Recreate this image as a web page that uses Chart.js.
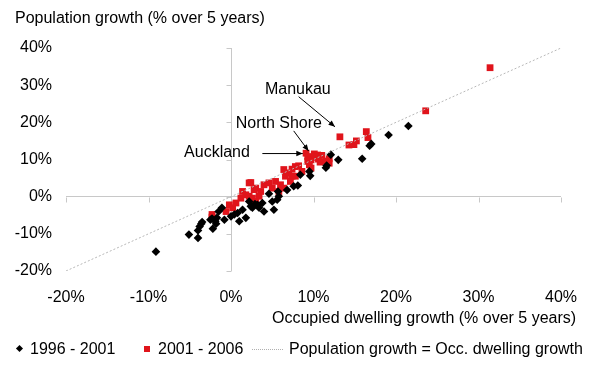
<!DOCTYPE html>
<html>
<head>
  <style>
    body {
      margin: 0;
      padding: 0;
      background: #fff;
      font-family: "Liberation Sans", Arial, sans-serif;
    }
    #wrap {
      position: relative;
      width: 596px;
      height: 366px;
    }
    #chart {
      position: absolute;
      left: 0;
      top: 0;
    }
    .txt {
      position: absolute;
      font-size: 16px;
      line-height: 18px;
      color: #000;
      white-space: nowrap;
    }
    .diamond {
      position: absolute;
      width: 5px;
      height: 5px;
      background: #000;
      transform: rotate(45deg);
    }
    .square {
      position: absolute;
      width: 6px;
      height: 6px;
      background: #e0141b;
    }
    .dotline {
      position: absolute;
      width: 31px;
      height: 0;
      border-top: 1px dotted #b0b0b0;
    }
  </style>
  <script src="https://cdn.jsdelivr.net/npm/chart.js"></script>
</head>
<body>
  <div id="wrap">
    <canvas id="chart" width="596" height="366"></canvas>
    <div class="txt" style="left:15px; top:9px;">Population growth (% over 5 years)</div>
    <div class="txt" style="left:272px; top:309px;">Occupied dwelling growth (% over 5 years)</div>

    <!-- legend -->
    <div class="diamond" style="left:17px; top:346px;"></div>
    <div class="txt" style="left:30px; top:340px;">1996 - 2001</div>
    <div class="square" style="left:144px; top:346px;"></div>
    <div class="txt" style="left:158px; top:340px;">2001 - 2006</div>
    <div class="dotline" style="left:252px; top:349px;"></div>
    <div class="txt" style="left:289px; top:340px;">Population growth = Occ. dwelling growth</div>
  </div>

  <script>
    // occupied dwelling growth (x) vs population growth (y), % over 5 years
    const growth9601 = [
      [-9.1, -14.8], [-5.1, -10.2], [-4.0, -11.1], [-4.0, -9.1], [-3.8, -8.0],
      [-3.6, -7.3], [-3.5, -6.8], [-2.5, -6.2], [-2.2, -8.6], [-2.3, -5.9],
      [-1.9, -6.6], [-1.8, -7.3], [-1.1, -3.0], [-1.5, -4.0], [-1.7, -5.7],
      [-0.8, -6.2], [0.0, -5.3], [0.4, -4.8], [0.8, -4.4], [1.4, -3.5],
      [1.0, -6.6], [1.8, -5.7], [2.2, -1.3], [2.4, -2.6], [2.6, -3.0],
      [3.2, -2.2], [3.4, -3.0], [2.9, -2.0], [3.8, -1.7], [4.0, -4.0],
      [5.0, -1.3], [5.2, -3.5], [5.6, -0.8], [5.8, 0.1], [5.7, 1.4],
      [4.6, 0.8], [6.8, 1.8], [7.6, 2.8], [8.1, 3.0], [8.4, 5.9],
      [9.5, 6.8], [9.6, 5.6], [11.5, 7.8], [11.6, 8.4], [12.1, 11.3],
      [13.0, 9.9], [15.9, 10.2], [16.8, 13.7], [17.0, 14.2], [19.1, 16.6],
      [21.5, 19.0]
    ];

    const growth0106 = [
      [31.4, 34.7], [23.6, 23.1], [16.4, 17.5], [16.6, 15.9], [15.2, 15.0],
      [14.9, 14.0], [14.3, 13.9], [13.2, 16.1], [9.1, 11.7], [9.3, 10.8],
      [9.7, 9.9], [9.3, 9.5], [10.1, 11.5], [10.5, 11.2], [11.0, 11.1],
      [10.2, 10.6], [10.6, 10.1], [10.8, 9.3], [11.5, 9.6], [11.9, 10.2],
      [11.9, 9.0], [9.5, 8.6], [9.7, 7.7], [7.4, 7.4], [7.8, 8.1],
      [7.0, 6.4], [6.4, 7.3], [8.2, 8.3], [8.6, 6.8], [7.8, 5.5],
      [7.4, 5.5], [6.6, 5.5], [7.2, 4.1], [2.4, 3.8], [3.0, 2.3],
      [4.0, 3.2], [3.6, 1.4], [4.6, 3.7], [5.0, 2.3], [5.4, 4.1],
      [6.0, 3.2], [5.8, 1.4], [6.4, 2.3], [3.4, 0.1], [2.8, -1.7],
      [2.2, 3.7], [1.4, 1.4], [1.8, 0.5], [1.2, -0.4], [2.2, 0.1],
      [-0.2, -2.2], [0.2, -3.0], [0.6, -1.7], [-0.6, -4.0], [-2.3, -4.8],
      [2.8, 1.9], [2.6, -0.4], [3.0, -1.3], [-2.3, -5.5]
    ];

    // y = x reference line
    const equalLineX = [-20, 40];

    const axisTicks = [-20, -10, 0, 10, 20, 30, 40];

    // label text, text centre, arrow start and end (data units)
    const notes = [
      { label: "Manukau",     tx: 8.1,  ty: 28.8, fx: 8.2, fy: 26.9, ex: 12.6, ey: 18.8 },
      { label: "North Shore", tx: 5.8,  ty: 19.6, fx: 7.6, fy: 17.7, ex: 9.4,  ey: 12.3 },
      { label: "Auckland",    tx: -1.7, ty: 11.8, fx: 3.8, fy: 11.6, ex: 8.7,  ey: 11.6 }
    ];

    const toPoints = arr => arr.map(p => ({ x: p[0], y: p[1] }));

    // small tick marks along the zero axes
    const axisMarks = {
      id: "axisMarks",
      beforeDatasetsDraw(chart) {
        const { ctx, scales: { x, y } } = chart;
        const x0 = Math.round(x.getPixelForValue(0)) + 0.5;
        const y0 = Math.round(y.getPixelForValue(0)) + 0.5;
        ctx.save();
        ctx.strokeStyle = "#c8c8c8";
        ctx.lineWidth = 1;
        ctx.beginPath();
        axisTicks.forEach(v => {
          const px = Math.round(x.getPixelForValue(v)) + 0.5;
          ctx.moveTo(px, y0);
          ctx.lineTo(px, y0 + 5);
          const py = Math.round(y.getPixelForValue(v)) + 0.5;
          ctx.moveTo(x0 - 5, py);
          ctx.lineTo(x0, py);
        });
        ctx.stroke();
        ctx.restore();
      }
    };

    // city labels with arrows
    const cityNotes = {
      id: "cityNotes",
      afterDatasetsDraw(chart) {
        const { ctx, scales: { x, y } } = chart;
        ctx.save();
        ctx.font = "16px 'Liberation Sans', Arial, sans-serif";
        ctx.fillStyle = "#000";
        ctx.strokeStyle = "#000";
        ctx.lineWidth = 1;
        ctx.textAlign = "center";
        ctx.textBaseline = "middle";
        notes.forEach(n => {
          ctx.fillText(n.label, x.getPixelForValue(n.tx), y.getPixelForValue(n.ty));
          const x1 = x.getPixelForValue(n.fx), y1 = y.getPixelForValue(n.fy);
          const x2 = x.getPixelForValue(n.ex), y2 = y.getPixelForValue(n.ey);
          ctx.beginPath();
          ctx.moveTo(x1, y1);
          ctx.lineTo(x2, y2);
          ctx.stroke();
          const a = Math.atan2(y2 - y1, x2 - x1);
          ctx.beginPath();
          ctx.moveTo(x2, y2);
          ctx.lineTo(x2 - 7 * Math.cos(a - 0.4), y2 - 7 * Math.sin(a - 0.4));
          ctx.lineTo(x2 - 7 * Math.cos(a + 0.4), y2 - 7 * Math.sin(a + 0.4));
          ctx.closePath();
          ctx.fill();
        });
        ctx.restore();
      }
    };

    Chart.defaults.font.family = "'Liberation Sans', Arial, sans-serif";
    Chart.defaults.font.size = 16;
    Chart.defaults.color = "#000";

    const zeroLine = c => (c.tick && c.tick.value === 0 ? "#c8c8c8" : "rgba(0,0,0,0)");

    const ctx = document.getElementById("chart").getContext("2d");
    const chart = new Chart(ctx, {
      type: "scatter",
      data: {
        datasets: [
          {
            label: "Population growth = Occ. dwelling growth",
            type: "line",
            data: equalLineX.map(v => ({ x: v, y: v })),
            borderColor: "#b8b8b8",
            borderWidth: 1,
            borderDash: [2, 2],
            pointRadius: 0,
            fill: false
          },
          {
            label: "1996 - 2001",
            data: toPoints(growth9601),
            pointStyle: "rectRot",
            pointRadius: 4.3,
            backgroundColor: "#000",
            borderColor: "#000",
            borderWidth: 0
          },
          {
            label: "2001 - 2006",
            data: toPoints(growth0106),
            pointStyle: "rect",
            pointRadius: 4.8,
            backgroundColor: "#e0141b",
            borderColor: "#e0141b",
            borderWidth: 0
          }
        ]
      },
      options: {
        responsive: false,
        animation: false,
        layout: {
          padding: { top: 48, right: 35, left: 0, bottom: 0 }
        },
        scales: {
          x: {
            type: "linear",
            min: -20,
            max: 40,
            border: { display: false },
            grid: { color: zeroLine, drawTicks: false, lineWidth: 1 },
            ticks: {
              stepSize: 10,
              padding: 17,
              maxRotation: 0,
              callback: v => v + "%"
            },
            afterFit: s => { s.height = 95; }
          },
          y: {
            type: "linear",
            min: -20,
            max: 40,
            border: { display: false },
            grid: { color: zeroLine, drawTicks: false, lineWidth: 1 },
            ticks: {
              stepSize: 10,
              padding: 14,
              callback: v => v + "%"
            },
            afterFit: s => { s.width = 66; }
          }
        },
        plugins: {
          legend: { display: false },
          tooltip: { enabled: false }
        }
      },
      plugins: [axisMarks, cityNotes]
    });
  </script>
</body>
</html>
